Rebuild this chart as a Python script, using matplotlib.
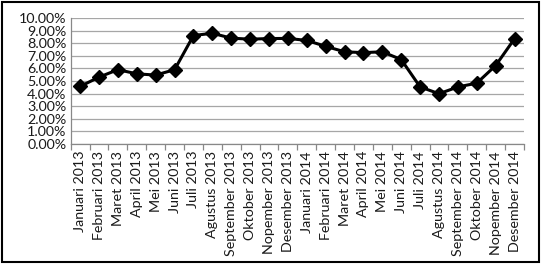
import matplotlib
matplotlib.use("Agg")
import matplotlib.pyplot as plt
from matplotlib.patches import Rectangle
from matplotlib.ticker import FuncFormatter, FixedLocator, NullFormatter

months = ["Januari", "Februari", "Maret", "April", "Mei", "Juni", "Juli",
          "Agustus", "September", "Oktober", "Nopember", "Desember"]
labels = [f"{m} 2013" for m in months] + [f"{m} 2014" for m in months]
inflation = [4.57, 5.31, 5.90, 5.57, 5.47, 5.90, 8.61, 8.79, 8.40, 8.32, 8.37, 8.38,
             8.22, 7.75, 7.32, 7.25, 7.32, 6.70, 4.53, 3.99, 4.53, 4.83, 6.23, 8.36]

plt.rcParams["font.family"] = ["Lato", "DejaVu Sans"]

fig = plt.figure(figsize=(5.41, 2.64), dpi=100)
ax = fig.add_axes([0.1307, 0.4545, 0.8379, 0.4773])

x = list(range(len(inflation)))
ax.plot(x, inflation, color="black", lw=2.2, marker="D", markersize=7.5, zorder=3)

ax.set_xlim(-0.5, len(inflation) - 0.5)
ax.set_ylim(0, 10)
ax.set_yticks(range(0, 11))
ax.yaxis.set_major_formatter(FuncFormatter(lambda v, p: f"{v:.2f}%"))
ax.grid(axis="y", color="#a6a6a6", lw=0.9)
ax.set_axisbelow(True)

ax.set_xticks(x)
ax.set_xticklabels(labels, rotation=90, fontsize=10.3, color="#1a1a1a")
ax.tick_params(axis="x", which="major", length=0, pad=5)
ax.xaxis.set_minor_locator(FixedLocator([i - 0.5 for i in range(len(inflation) + 1)]))
ax.xaxis.set_minor_formatter(NullFormatter())
ax.tick_params(axis="x", which="minor", length=4, color="#888888", width=0.9)
ax.tick_params(axis="y", length=0, labelsize=10.3, labelcolor="#1a1a1a", pad=3)

for side in ["top", "right"]:
    ax.spines[side].set_visible(False)
for side in ["left", "bottom"]:
    ax.spines[side].set_color("#888888")
    ax.spines[side].set_linewidth(0.9)

fig.patches.append(Rectangle((0.004, 0.006), 0.992, 0.988, transform=fig.transFigure,
                             fill=False, edgecolor="black", lw=1.5))

fig.savefig("out.png", dpi=100)
